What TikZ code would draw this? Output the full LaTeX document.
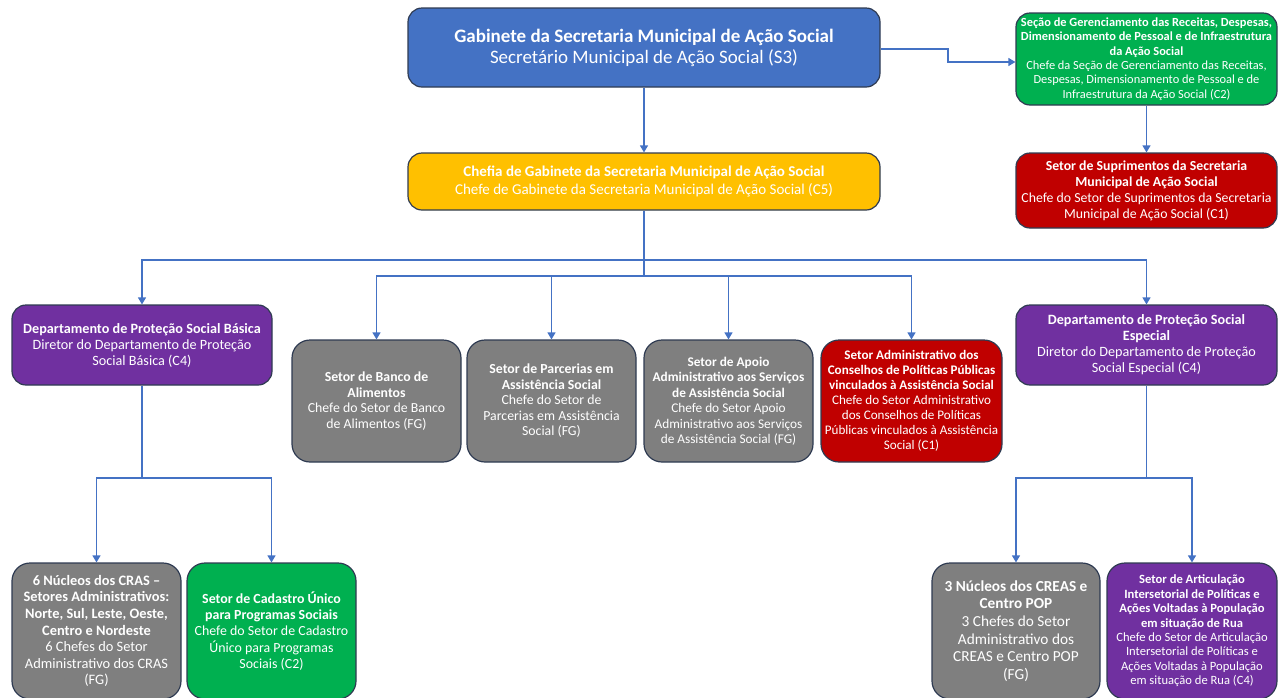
\documentclass[tikz,border=0pt]{standalone}
\usepackage{fontspec}
\setmainfont{Carlito}
\usetikzlibrary{arrows.meta}

\definecolor{cblue}{HTML}{4472C4}
\definecolor{cgreen}{HTML}{00B050}
\definecolor{cyellow}{HTML}{FFC000}
\definecolor{cred}{HTML}{C00000}
\definecolor{cpurple}{HTML}{7030A0}
\definecolor{cgray}{HTML}{7F7F7F}
\definecolor{cedge}{HTML}{2F3B52}
\definecolor{cline}{HTML}{4472C4}

\newcommand{\fs}[2]{\fontsize{#1}{#2}\selectfont}

\tikzset{
  unit/.style={draw=cedge, line width=1.2pt, rounded corners=14pt, text=white,
    align=center, inner sep=1pt},
  link/.style={draw=cline, line width=1.2pt},
  conn/.style={link, -{Triangle[length=7pt,width=8pt]}},
}

\begin{document}
\begin{tikzpicture}[x=1pt,y=-1pt]
\useasboundingbox (0,0) rectangle (1286,697);
\clip (0,0) rectangle (1286,697);

% top level
\node[unit, fill=cblue, minimum width=472pt, minimum height=79pt, font=\fs{19}{21}]
  (gab) at (644,47.5)
  {\textbf{Gabinete da Secretaria Municipal de Ação Social}\\Secretário Municipal de Ação Social (S3)};

\node[unit, fill=cgreen, minimum width=261pt, minimum height=92pt, font=\fs{12.4}{14.3}]
  (sec) at (1146.5,59)
  {\textbf{Seção de Gerenciamento das Receitas, Despesas,}\\
   \textbf{Dimensionamento de Pessoal e de Infraestrutura}\\
   \textbf{da Ação Social}\\
   Chefe da Seção de Gerenciamento das Receitas,\\
   Despesas, Dimensionamento de Pessoal e de\\
   Infraestrutura da Ação Social (C2)};

\node[unit, fill=cyellow, minimum width=472pt, minimum height=57pt, font=\fs{15}{18}]
  (chefia) at (644,181.5)
  {\textbf{Chefia de Gabinete da Secretaria Municipal de Ação Social}\\
   Chefe de Gabinete da Secretaria Municipal de Ação Social (C5)};

\node[unit, fill=cred, minimum width=261pt, minimum height=75pt, font=\fs{13.8}{16}]
  (sup) at (1146.5,190.5)
  {\textbf{Setor de Suprimentos da Secretaria}\\
   \textbf{Municipal de Ação Social}\\
   Chefe do Setor de Suprimentos da Secretaria\\
   Municipal de Ação Social (C1)};

% departments
\node[unit, fill=cpurple, minimum width=260pt, minimum height=80pt, font=\fs{14.2}{16}]
  (basica) at (142,345)
  {\textbf{Departamento de Proteção Social Básica}\\
   Diretor do Departamento de Proteção\\
   Social Básica (C4)};

\node[unit, fill=cpurple, minimum width=261pt, minimum height=80pt, font=\fs{14.2}{16}]
  (especial) at (1146.5,345)
  {\textbf{Departamento de Proteção Social}\\
   \textbf{Especial}\\
   Diretor do Departamento de Proteção\\
   Social Especial (C4)};

% sectors under the chief of staff
\node[unit, fill=cgray, minimum width=169pt, minimum height=122pt, rounded corners=18pt, font=\fs{13.8}{15.5}]
  (banco) at (376.5,401)
  {\textbf{Setor de Banco de}\\
   \textbf{Alimentos}\\
   Chefe do Setor de Banco\\
   de Alimentos (FG)};

\node[unit, fill=cgray, minimum width=169pt, minimum height=122pt, rounded corners=18pt, font=\fs{13.8}{15.5}]
  (parc) at (551.5,401)
  {\textbf{Setor de Parcerias em}\\
   \textbf{Assistência Social}\\
   Chefe do Setor de\\
   Parcerias em Assistência\\
   Social (FG)};

\node[unit, fill=cgray, minimum width=169pt, minimum height=122pt, rounded corners=18pt, font=\fs{13.3}{15.5}]
  (apoio) at (728.5,401)
  {\textbf{Setor de Apoio}\\
   \textbf{Administrativo aos Serviços}\\
   \textbf{de Assistência Social}\\
   Chefe do Setor Apoio\\
   Administrativo aos Serviços\\
   de Assistência Social (FG)};

\node[unit, fill=cred, minimum width=181pt, minimum height=122pt, rounded corners=18pt, font=\fs{13.1}{15}]
  (cons) at (911.5,401)
  {\textbf{Setor Administrativo dos}\\
   \textbf{Conselhos de Políticas Públicas}\\
   \textbf{vinculados à Assistência Social}\\
   Chefe do Setor Administrativo\\
   dos Conselhos de Políticas\\
   Públicas vinculados à Assistência\\
   Social (C1)};

% units under the departments
\node[unit, fill=cgray, minimum width=169pt, minimum height=136pt, rounded corners=18pt, font=\fs{14.4}{16.6}]
  (cras) at (96.5,631)
  {\textbf{6 Núcleos dos CRAS –}\\
   \textbf{Setores Administrativos:}\\
   \textbf{Norte, Sul, Leste, Oeste,}\\
   \textbf{Centro e Nordeste}\\
   6 Chefes do Setor\\
   Administrativo dos CRAS\\
   (FG)};

\node[unit, fill=cgreen, minimum width=169pt, minimum height=136pt, rounded corners=18pt, font=\fs{13.9}{16.4}]
  (cad) at (271.5,631)
  {\textbf{Setor de Cadastro Único}\\
   \textbf{para Programas Sociais}\\
   Chefe do Setor de Cadastro\\
   Único para Programas\\
   Sociais (C2)};

\node[unit, fill=cgray, minimum width=168pt, minimum height=136pt, rounded corners=18pt, font=\fs{15.3}{17.7}]
  (creas) at (1016,631)
  {\textbf{3 Núcleos dos CREAS e}\\
   \textbf{Centro POP}\\
   3 Chefes do Setor\\
   Administrativo dos\\
   CREAS e Centro POP\\
   (FG)};

\node[unit, fill=cpurple, minimum width=170pt, minimum height=136pt, rounded corners=18pt, font=\fs{12.6}{14.4}]
  (rua) at (1192,631)
  {\textbf{Setor de Articulação}\\
   \textbf{Intersetorial de Políticas e}\\
   \textbf{Ações Voltadas à População}\\
   \textbf{em situação de Rua}\\
   Chefe do Setor de Articulação\\
   Intersetorial de Políticas e\\
   Ações Voltadas à População\\
   em situação de Rua (C4)};

% routing points
\coordinate (gabout) at ([yshift=-1.5pt]gab.east);
\coordinate (secin) at ([yshift=-3pt]sec.west);
\coordinate (bend) at (948,55);
\coordinate (busA) at (644,260);
\coordinate (busB) at (644,276);
\coordinate (busL) at (142,478);
\coordinate (busR) at (1146.5,478);

% connectors
\draw[conn] (gab.south) -- (chefia.north);
\draw[conn] (gabout) -| (bend) |- (secin);
\draw[conn] (sec.south) -- (sup.north);

\draw[link] (chefia.south) -- (busB);
\draw[conn] (busA) -| (basica.north);
\draw[conn] (busA) -| (especial.north);
\draw[conn] (busB) -| (banco.north);
\draw[conn] (busB) -| (parc.north);
\draw[conn] (busB) -| (apoio.north);
\draw[conn] (busB) -| (cons.north);

\draw[link] (basica.south) -- (busL);
\draw[conn] (busL) -| (cras.north);
\draw[conn] (busL) -| (cad.north);

\draw[link] (especial.south) -- (busR);
\draw[conn] (busR) -| (creas.north);
\draw[conn] (busR) -| (rua.north);
\end{tikzpicture}
\end{document}
